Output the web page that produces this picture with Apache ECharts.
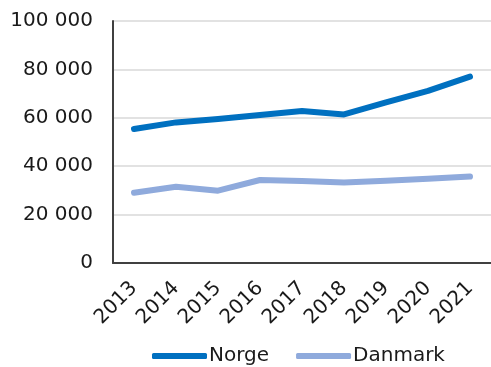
<!DOCTYPE html>
<html>
<head>
<meta charset="utf-8">
<script src="https://cdn.jsdelivr.net/npm/echarts@6/dist/echarts.min.js"></script>
<style>
  html, body { margin: 0; padding: 0; background: #fff; }
  #chart { width: 491px; height: 367px; }
</style>
</head>
<body>
<div id="chart"></div>
<script>
// Years on the category axis
const years = ['2013', '2014', '2015', '2016', '2017', '2018', '2019', '2020', '2021'];
// Yearly values per country
const norge = [55400, 58100, 59500, 61200, 62800, 61400, 66400, 71100, 77000];
const danmark = [29000, 31500, 29900, 34300, 33900, 33300, 34000, 34800, 35700];
// Value axis ticks
const yTicks = [0, 20000, 40000, 60000, 80000, 100000];

const fontFamily = 'DejaVu Sans';
const fmt = v => String(v).replace(/\B(?=(\d{3})+(?!\d))/g, ' ');

const chart = echarts.init(document.getElementById('chart'));
chart.setOption({
  animation: false,
  textStyle: { fontFamily: fontFamily },
  grid: { left: 113, right: 0, top: 21, bottom: 104, containLabel: false },
  legend: {
    left: 147,
    top: 341,
    itemWidth: 55,
    itemHeight: 6,
    itemGap: 27,
    icon: 'roundRect',
    textStyle: { fontSize: 20, color: '#1a1a1a', fontFamily: fontFamily, padding: [0, 0, 0, -3] },
    data: ['Norge', 'Danmark']
  },
  xAxis: {
    type: 'category',
    data: years,
    boundaryGap: true,
    axisLine: { lineStyle: { color: '#404040', width: 2 } },
    axisTick: { show: false },
    axisLabel: { rotate: 45, fontSize: 20, color: '#1a1a1a', margin: 22, interval: 0 }
  },
  yAxis: {
    type: 'value',
    min: yTicks[0],
    max: yTicks[yTicks.length - 1],
    interval: yTicks[1] - yTicks[0],
    axisLine: { show: true, lineStyle: { color: '#404040', width: 2 } },
    axisTick: { show: false },
    splitLine: { lineStyle: { color: '#d9d9d9', width: 1.5 } },
    axisLabel: { fontSize: 20, color: '#1a1a1a', margin: 20, formatter: fmt }
  },
  series: [
    {
      name: 'Norge',
      type: 'line',
      data: norge,
      symbol: 'none',
      color: '#0070C0',
      lineStyle: { width: 6, color: '#0070C0', cap: 'round', join: 'round' }
    },
    {
      name: 'Danmark',
      type: 'line',
      data: danmark,
      symbol: 'none',
      color: '#8FAADC',
      lineStyle: { width: 6, color: '#8FAADC', cap: 'round', join: 'round' }
    }
  ]
});
</script>
</body>
</html>
